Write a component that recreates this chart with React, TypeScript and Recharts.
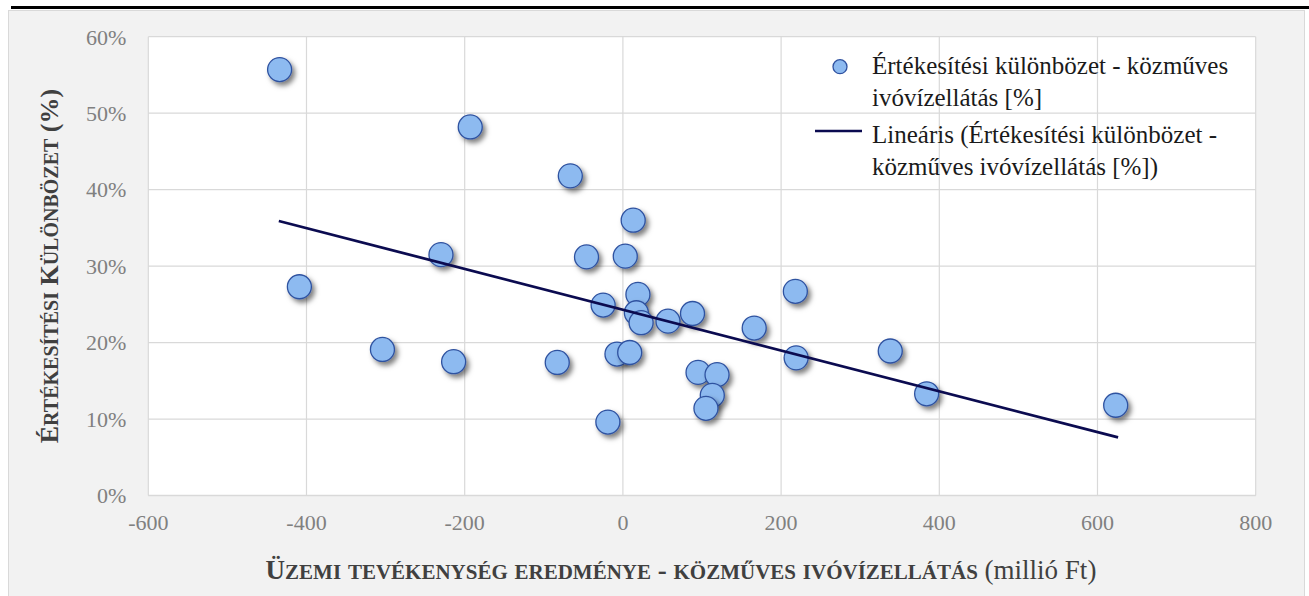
import React from 'react';
import { CartesianGrid, Scatter, ScatterChart, XAxis, YAxis } from 'recharts';

// Üzemi tevékenység eredménye (millió Ft)
const profitValues = [
  -434, -193, -66.5, 13, -230, -46, 3, -409, 218, 19, -25, 17, 23, 57, 88,
  166, 219, -304, -214, -83, -7.5, 8.6, 95, 119, 113, 105, -19, 338, 384, 623,
];
// Értékesítési különbözet (%)
const marginValues = [
  55.7, 48.2, 41.8, 36.0, 31.5, 31.2, 31.3, 27.3, 26.7, 26.3, 24.9, 23.9, 22.6, 22.8, 23.8,
  21.9, 18.0, 19.1, 17.5, 17.4, 18.5, 18.7, 16.1, 15.8, 13.1, 11.4, 9.6, 18.9, 13.3, 11.8,
];
// lineáris trendvonal végpontjai
const trendX = [-435, 626];
const trendY = [35.9, 7.6];

const xTicks = [-600, -400, -200, 0, 200, 400, 600, 800];
const yTicks = [0, 10, 20, 30, 40, 50, 60];

const points = profitValues.map((x, i) => ({ x, y: marginValues[i] }));
const trend = trendX.map((x, i) => ({ x, y: trendY[i] }));

const FONT = '"Liberation Serif", "Times New Roman", serif';
const DOT_FILL = '#8DBAF0';
const DOT_STROKE = '#2F52A0';
const TREND = '#0B0B50';

function Dot(props) {
  const { cx, cy } = props;
  if (cx == null || cy == null) return null;
  return (<circle cx={cx} cy={cy} r={12} fill={DOT_FILL} stroke={DOT_STROKE} strokeWidth={1.3} filter="url(#dotShadow)"/>);
}

function NoDot() {
  return <g />;
}

// Excel-style small caps: lowercase letters become smaller capitals
function SmallCaps({ text, big, small }) {
  const runs = [];
  for (const ch of text) {
    const isLower = ch !== ch.toUpperCase();
    const size = isLower ? small : big;
    const c = isLower ? ch.toUpperCase() : ch;
    const last = runs[runs.length - 1];
    if (last && last.size === size) last.text += c;
    else runs.push({ size, text: c });
  }
  return (<>
      {runs.map((r, i) => (<span key={i} style={{ fontSize: r.size }}>{r.text}</span>))}
    </>);
}

export default function App() {
  return (<div style={{ position: 'absolute', left: 0, top: 0, width: 1309, height: 596, overflow: 'hidden', fontFamily: FONT, background: '#fff' }}>
      <svg width={0} height={0} style={{ position: 'absolute' }}>
        <defs>
          <filter id="dotShadow" x="-60%" y="-60%" width="220%" height="220%">
            <feDropShadow dx={3} dy={3.5} stdDeviation={2.6} floodColor="#000" floodOpacity={0.5}/>
          </filter>
        </defs>
      </svg>
      <div style={{ position: 'absolute', left: 11, top: 6, width: 1298, height: 2.5, background: '#000' }}/>
      <div style={{ position: 'absolute', left: 8, top: 10, width: 1297, height: 600, boxSizing: 'border-box', background: '#f2f2f2', border: '1px solid #d9d9d9' }}/>

      <div style={{ position: 'absolute', left: 0, top: 0 }}>
        <ScatterChart width={1309} height={596} margin={{ top: 36.7, right: 53.3, bottom: 60.5, left: 0 }}>
          <CartesianGrid stroke="#d9d9d9" strokeWidth={1.2} fill="#ffffff" fillOpacity={1}/>
          <XAxis type="number" dataKey="x" domain={[-600, 800]} ticks={xTicks} height={40} allowDataOverflow tickLine={false} axisLine={{ stroke: '#d9d9d9', strokeWidth: 1.5 }} tickMargin={13} tick={{ fontSize: 22, fill: '#808080', fontFamily: FONT }}/>
          <YAxis type="number" dataKey="y" domain={[0, 60]} ticks={yTicks} width={148.3} allowDataOverflow tickLine={false} axisLine={false} tickMargin={16} tickFormatter={(v) => `${v}%`} tick={{ fontSize: 22, fill: '#808080', fontFamily: FONT }}/>
          <Scatter name="Értékesítési különbözet - közműves ivóvízellátás [%]" data={points} shape={Dot} isAnimationActive={false}/>
          <Scatter name="Lineáris (Értékesítési különbözet - közműves ivóvízellátás [%])" data={trend} line={{ stroke: TREND, strokeWidth: 2.75 }} shape={NoDot} isAnimationActive={false}/>
        </ScatterChart>
      </div>

      {/* y axis title */}
      <div style={{ position: 'absolute', left: 50 - 250, top: 266 - 16, width: 500, height: 32, lineHeight: '32px', textAlign: 'center', transform: 'rotate(-90deg)', transformOrigin: '50% 50%', fontWeight: 'bold', color: '#404040', whiteSpace: 'nowrap' }}>
        <SmallCaps text="Értékesítési Különbözet (%)" big={26} small={20}/>
      </div>

      {/* x axis title */}
      <div style={{ position: 'absolute', left: 181, top: 570 - 17, width: 1000, height: 34, lineHeight: '34px', textAlign: 'center', color: '#404040', whiteSpace: 'nowrap' }}>
        <span style={{ fontWeight: 'bold' }}>
          <SmallCaps text="Üzemi tevékenység eredménye - közműves ivóvízellátás" big={27} small={21}/>
        </span>
        <span style={{ fontSize: 27 }}> (millió Ft)</span>
      </div>

      {/* legend */}
      <div style={{ position: 'absolute', left: 0, top: 0, fontSize: 25, lineHeight: '32px', color: '#1a1a1a' }}>
        <svg width={60} height={200} style={{ position: 'absolute', left: 810, top: 40 }}>
          <circle cx={30} cy={26.7} r={7} fill={DOT_FILL} stroke={DOT_STROKE} strokeWidth={1.3}/>
          <line x1={5} x2={52} y1={91} y2={91} stroke={TREND} strokeWidth={2.5}/>
        </svg>
        <div style={{ position: 'absolute', left: 872, top: 50, whiteSpace: 'nowrap' }}>
          Értékesítési különbözet - közműves<br />ivóvízellátás [%]
        </div>
        <div style={{ position: 'absolute', left: 872, top: 119, whiteSpace: 'nowrap' }}>
          Lineáris (Értékesítési különbözet -<br />közműves ivóvízellátás [%])
        </div>
      </div>
    </div>);
}
